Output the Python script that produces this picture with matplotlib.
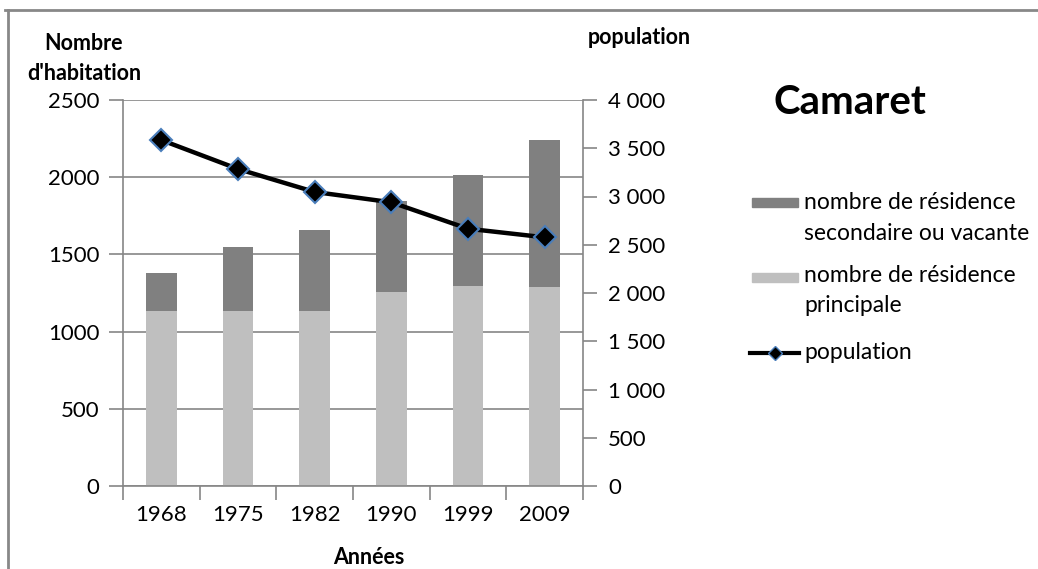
import matplotlib

matplotlib.use("Agg")

import matplotlib.pyplot as plt
from matplotlib.lines import Line2D
from matplotlib.patches import Rectangle
from matplotlib.ticker import FixedLocator, FuncFormatter

plt.rcParams["font.family"] = ["Lato", "DejaVu Sans"]

# values
years = ["1968", "1975", "1982", "1990", "1999", "2009"]
principale = [1133, 1133, 1133, 1258, 1295, 1287]
total_logements = [1381, 1548, 1658, 1845, 2014, 2239]
secondaire = [t - p for t, p in zip(total_logements, principale)]
population = [3585, 3285, 3047, 2940, 2666, 2577]

dark = "#808080"
light = "#bfbfbf"
axis_gray = "#868686"
marker_edge = "#4a7ebb"

W, H = 1038, 569


def fx(px):
    return px / W


def fy(py):
    return 1 - py / H


fig = plt.figure(figsize=(W / 100, H / 100), dpi=100)
ax = fig.add_axes([fx(123), fy(486), 460 / W, 386 / H])
ax2 = ax.twinx()

x = list(range(len(years)))
ax.bar(x, principale, width=0.4, color=light, zorder=2)
ax.bar(x, secondaire, width=0.4, bottom=principale, color=dark, zorder=2)

ax2.plot(x, population, color="black", linewidth=3.2, marker="D", markersize=11.5,
         markerfacecolor="black", markeredgecolor=marker_edge, markeredgewidth=1.5,
         zorder=3)

ax.set_xlim(-0.5, len(years) - 0.5)
ax.set_ylim(0, 2500)
ax2.set_ylim(0, 4000)

# gridlines follow the left axis scale
ax.set_yticks([0, 500, 1000, 1500, 2000, 2500])
ax.yaxis.grid(True, color=axis_gray, linewidth=1.2, zorder=0)
ax.set_axisbelow(True)
ax.tick_params(axis="y", length=10, width=1.2, color=axis_gray, pad=7, labelsize=16)

ax.set_xticks(x)
ax.set_xticklabels(years)
ax.xaxis.set_minor_locator(FixedLocator([i - 0.5 for i in range(len(years) + 1)]))
ax.tick_params(axis="x", which="major", length=0, pad=14, labelsize=16)
ax.tick_params(axis="x", which="minor", length=10, width=1.2, color=axis_gray)

ax2.set_yticks(range(0, 4001, 500))
ax2.yaxis.set_major_formatter(FuncFormatter(lambda v, _: f"{int(v):,}".replace(",", " ")))
ax2.tick_params(axis="y", length=10, width=1.2, color=axis_gray, pad=8, labelsize=16)

for a in (ax, ax2):
    a.spines["top"].set_visible(False)
    for s in ("left", "right", "bottom"):
        a.spines[s].set_color(axis_gray)
        a.spines[s].set_linewidth(1.2)
ax.spines["right"].set_visible(False)
ax2.spines["left"].set_visible(False)
ax2.spines["bottom"].set_visible(False)

# axis titles
bold = dict(ha="center", va="center", fontsize=15.5, fontweight="bold")
fig.text(fx(84), fy(43), "Nombre", **bold)
fig.text(fx(84), fy(73), "d'habitation", **bold)
fig.text(fx(639), fy(37), "population", **bold)
fig.text(fx(369), fy(557), "Années", **bold)

fig.text(fx(850), fy(103), "Camaret", ha="center", va="center",
         fontsize=29, fontweight="bold")

# legend, drawn by hand so the keys sit level with the first text line
leg_text = dict(ha="left", va="baseline", fontsize=16.5)
fig.add_artist(Rectangle((fx(752), fy(207)), 46 / W, 9 / H, color=dark,
                         transform=fig.transFigure))
fig.text(fx(804), fy(209), "nombre de résidence", **leg_text)
fig.text(fx(804), fy(240), "secondaire ou vacante", **leg_text)
fig.add_artist(Rectangle((fx(752), fy(282)), 46 / W, 9 / H, color=light,
                         transform=fig.transFigure))
fig.text(fx(804), fy(282), "nombre de résidence", **leg_text)
fig.text(fx(804), fy(312), "principale", **leg_text)
fig.add_artist(Line2D([fx(750), fx(799)], [fy(353), fy(353)], color="black",
                      linewidth=3, transform=fig.transFigure))
fig.add_artist(Line2D([fx(775)], [fy(353)], color="black", marker="D", markersize=7,
                      markerfacecolor="black", markeredgecolor=marker_edge,
                      transform=fig.transFigure))
fig.text(fx(804), fy(359), "population", **leg_text)

# chart frame (top and left edges visible in the crop)
fig.add_artist(Line2D([fx(5), 1], [fy(10), fy(10)], color="#888888",
                      linewidth=2, transform=fig.transFigure))
fig.add_artist(Line2D([fx(8), fx(8)], [0, fy(10)], color="#888888",
                      linewidth=2, transform=fig.transFigure))

fig.savefig("out.png", dpi=100)
